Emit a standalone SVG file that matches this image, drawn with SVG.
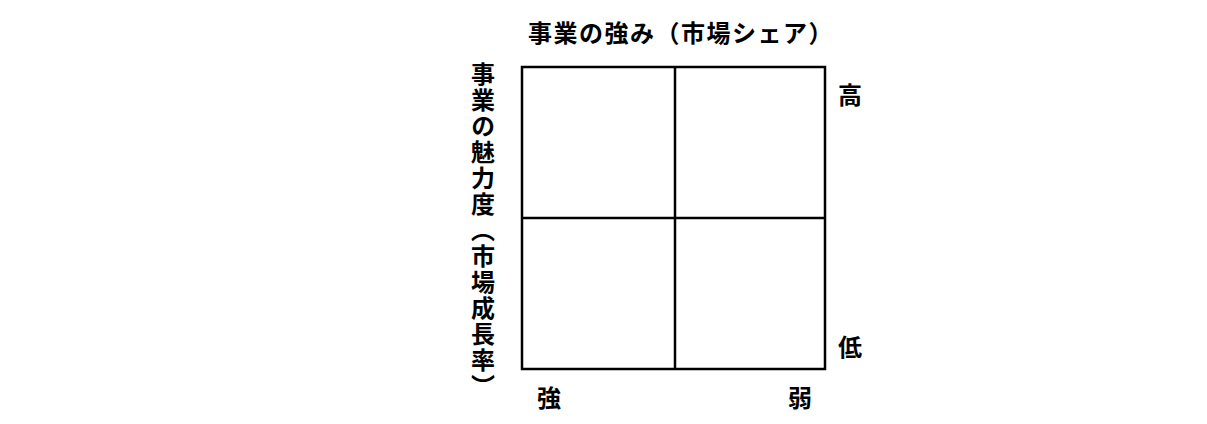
<svg xmlns="http://www.w3.org/2000/svg" width="1207" height="424" viewBox="0 0 1207 424">
<style>
.t{font-family:"Noto Sans CJK JP","Noto Sans CJK SC",sans-serif;font-weight:bold;font-size:24px;fill:#000}
.ln{stroke:#000;stroke-width:2.5;fill:none}
</style>
<rect width="1207" height="424" fill="#fff"/>
<g id="title"><text class="t" x="528" y="31" dominant-baseline="central" letter-spacing="1.5">事業の強み（市場シェア）</text></g>
<g id="yaxis"><text class="t" x="483" y="62" writing-mode="vertical-rl" letter-spacing="2">事業の魅力度（市場成長率）</text></g>
<g id="grid">
<rect class="ln" x="522" y="67" width="303" height="302"/>
</g>
<g id="connectors">
<line class="ln" x1="675" y1="67" x2="675" y2="369"/>
<line class="ln" x1="522" y1="218" x2="825" y2="218"/>
</g>
<g id="label-high"><text class="t" x="850" y="93" text-anchor="middle" dominant-baseline="central">高</text></g>
<g id="label-low"><text class="t" x="850" y="345" text-anchor="middle" dominant-baseline="central">低</text></g>
<g id="label-strong"><text class="t" x="549" y="396" text-anchor="middle" dominant-baseline="central">強</text></g>
<g id="label-weak"><text class="t" x="800" y="396" text-anchor="middle" dominant-baseline="central">弱</text></g>
</svg>
